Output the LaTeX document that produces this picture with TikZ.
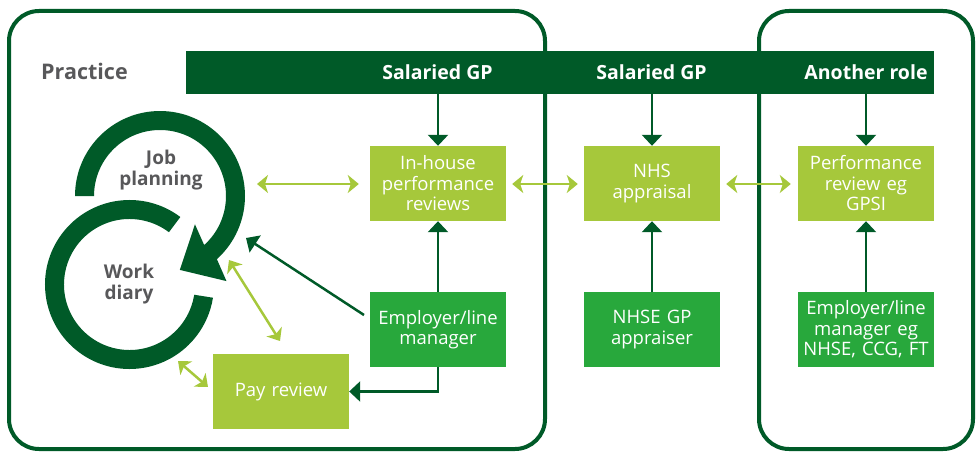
\documentclass[tikz,border=0pt]{standalone}
\usepackage{fontspec}
\setmainfont{Open Sans}
\usetikzlibrary{arrows.meta,calc}
\definecolor{dkg}{RGB}{0,90,40}
\definecolor{lgr}{RGB}{166,200,59}
\definecolor{mgr}{RGB}{40,168,60}
\definecolor{txg}{RGB}{88,88,90}
\tikzset{
  frame/.style={draw=dkg, line width=4pt, rounded corners=30pt},
  lbox/.style={fill=lgr, minimum width=136pt, minimum height=75pt, text width=134pt, align=center, text=white, inner sep=0pt, font=\fontsize{18.5}{20.5}\selectfont},
  mbox/.style={lbox, fill=mgr},
  bandtxt/.style={text=white, font=\bfseries\fontsize{19.5}{22}\selectfont, inner sep=0pt},
  ringtxt/.style={text=txg, align=center, font=\bfseries\fontsize{19}{21.5}\selectfont, inner sep=0pt},
  darr/.style={draw=dkg, line width=2.5pt, -{Triangle[width=20pt,length=11pt]}},
  larr/.style={draw=lgr, line width=2.5pt, {Stealth[width=18pt,length=11pt,inset=3pt]}-{Stealth[width=18pt,length=11pt,inset=3pt]}},
}
\begin{document}
\begin{tikzpicture}[x=1pt,y=1pt]
\useasboundingbox (0,0) rectangle (980,-452);
% frames
\draw[frame] (9,-11) rectangle (545,-449);
\draw[frame] (759,-11) rectangle (973,-449);
% band
\node[fill=dkg, minimum width=748pt, minimum height=43pt, inner sep=0pt, anchor=north west] (band) at (186,-51) {};
\node[bandtxt] (t1) at (437.5,-72) {Salaried GP};
\node[bandtxt] (t2) at (651.5,-72) {Salaried GP};
\node[bandtxt] (t3) at (866,-72) {Another role};
\node[text=txg, font=\bfseries\fontsize{21.5}{24}\selectfont, inner sep=0pt, anchor=west] (practice) at (41,-71) {Practice};
% boxes
\node[lbox] (inhouse) at (438,-183.5) {In-house\\performance\\reviews};
\node[lbox] (nhs) at (652,-183.5) {NHS\\appraisal};
\node[lbox] (perf) at (866,-183.5) {Performance\\review eg\\GPSI};
\node[mbox] (emp) at (438,-329.5) {Employer/line\\manager};
\node[mbox] (nhse) at (652,-329.5) {NHSE GP\\appraiser};
\node[mbox] (emp2) at (866,-329.5) {Employer/line\\manager eg\\NHSE, CCG, FT};
\node[lbox] (pay) at (281,-391.5) {Pay review};
% rings
\coordinate (c1) at (160,-196);
\coordinate (c2) at (129.5,-284.5);
\fill[dkg] ($(c2)+(53:84.5)$) arc[start angle=53, end angle=351, radius=84.5]
  -- ($(c2)+(351:65.5)$) arc[start angle=351, end angle=53, radius=65.5] -- cycle;
\fill[dkg] ($(c1)+(180:85)$) arc[start angle=180, end angle=-48, radius=85]
  -- ($(c1)+(-52:108)$) -- ($(c1)+(-75:76.5)$) -- ($(c1)+(-39:45)$)
  -- ($(c1)+(-48:66)$) arc[start angle=-48, end angle=180, radius=66] -- cycle;
\node[ringtxt] (job) at (161,-170) {Job\\planning};
\node[ringtxt] (work) at (129,-284) {Work\\diary};
% dark arrows
\draw[darr] (band.south -| inhouse) -- (inhouse.north);
\draw[darr] (band.south -| nhs) -- (nhs.north);
\draw[darr] (band.south -| perf) -- (perf.north);
\draw[darr] (emp.north) -- (inhouse.south);
\draw[darr] (nhse.north) -- (nhs.south);
\draw[darr] (emp2.north) -- (perf.south);
\draw[darr] (emp.south) |- (pay.east);
\coordinate (ds) at (364,-315);
\coordinate (dt) at (246,-238);
\draw[darr] (ds) -- (dt);
% light arrows
\coordinate (la) at (257,-184);
\draw[larr, shorten >=11pt] (la) -- (inhouse.west |- la);
\draw[larr, shorten <=6pt, shorten >=6pt] (inhouse.east |- la) -- (nhs.west |- la);
\draw[larr, shorten <=6pt, shorten >=7pt] (nhs.east |- la) -- (perf.west |- la);
\coordinate (lb1) at (229,-260);
\coordinate (lb2) at (280,-341);
\draw[larr] (lb1) -- (lb2);
\coordinate (lc1) at (178,-361);
\coordinate (lc2) at (208,-387);
\draw[larr] (lc1) -- (lc2);
\end{tikzpicture}
\end{document}
